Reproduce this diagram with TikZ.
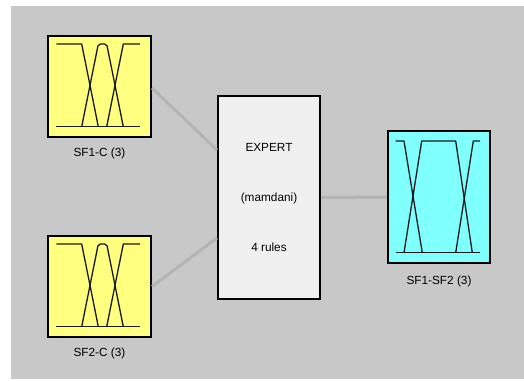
\documentclass[tikz,border=0pt]{standalone}
\usepackage{fontspec}
\setmainfont{Liberation Sans}
\usetikzlibrary{calc}
\definecolor{bgray}{HTML}{C8C8C8}
\definecolor{lgray}{HTML}{B4B4B4}
\definecolor{fyel}{HTML}{FFFF80}
\definecolor{fcyan}{HTML}{80FFFF}
\definecolor{fwhite}{HTML}{F0F0F0}
\tikzset{
  fbox/.style={draw=black, line width=2pt, rectangle, inner sep=0pt},
  inbox/.style={fbox, fill=fyel, minimum width=103pt, minimum height=101pt},
  outbox/.style={fbox, fill=fcyan, minimum width=102pt, minimum height=132pt},
  rulebox/.style={fbox, fill=fwhite, minimum width=102pt, minimum height=203pt},
  lbl/.style={inner sep=0pt, font=\fontsize{11.8}{14}\selectfont},
  conn/.style={draw=lgray, line width=3pt},
  mf/.style={draw=black!90, line width=1.3pt, line join=round}
}
\begin{document}
\begin{tikzpicture}[x=1pt, y=-1pt]
\useasboundingbox (0,0) rectangle (524,380);
\fill[white] (0,0) rectangle (524,380);
\fill[bgray] (11,6) rectangle (524,379);
% boxes
\node[inbox] (sf1) at (99.5,86.5) {};
\node[inbox] (sf2) at (99.5,286.5) {};
\node[rulebox] (ex) at (269,197.5) {};
\node[outbox] (sf3) at (439,197) {};
% labels
\node[lbl] (l1) at (99.5,153) {SF1-C (3)};
\node[lbl] (l2) at (99.5,353) {SF2-C (3)};
\node[lbl] (l3) at (439,281) {SF1-SF2 (3)};
\node[lbl] (t1) at (269,147) {EXPERT};
\node[lbl] (t2) at (269,198) {(mamdani)};
\node[lbl] (t3) at (269,247) {4 rules};
% connectors
\draw[conn] ([yshift=-1.5pt]sf1.east) -- ([yshift=47.5pt]ex.west);
\draw[conn] (sf2.east) -- ([yshift=-40.5pt]ex.west);
\draw[conn] (ex.east) -- (sf3.west);
% membership functions, inputs
\foreach \b in {sf1,sf2}{
\begin{scope}[shift={(\b.north west)}]
  \draw[mf] (9.3,9) -- (34.7,9) -- (51.3,91.7);
  \draw[mf, rounded corners=2pt] (34.7,91.7) -- (51.3,9) -- (59.7,9) -- (76.3,91.7);
  \draw[mf] (59.7,91.7) -- (76.3,9) -- (93,9);
  \draw[mf] (9.3,91.7) -- (93,91.7);
\end{scope}
}
% membership functions, output
\begin{scope}[shift={(sf3.north west)}]
  \draw[mf] (8.7,11) -- (17,11) -- (35.3,122.7);
  \draw[mf] (17,122.7) -- (34.7,11) -- (68.7,11) -- (85.3,122.7);
  \draw[mf] (68.7,122.7) -- (86.3,11) -- (93,11);
  \draw[mf] (8.7,122.7) -- (93,122.7);
\end{scope}
\end{tikzpicture}
\end{document}
